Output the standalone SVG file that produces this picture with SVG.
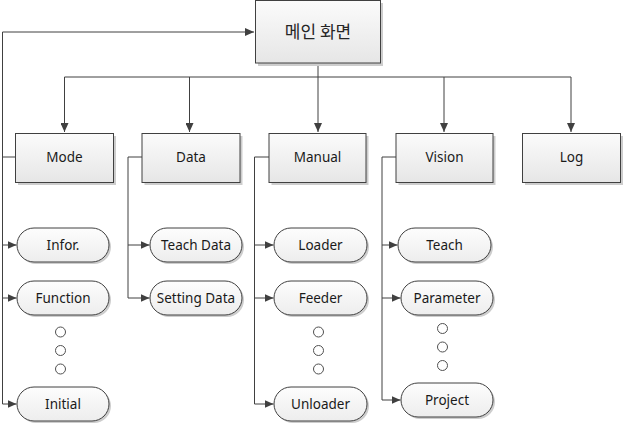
<svg xmlns="http://www.w3.org/2000/svg" width="623" height="423" viewBox="0 0 623 423">
<defs>
<linearGradient id="gBox" x1="0" y1="0" x2="0" y2="1">
<stop offset="0" stop-color="#fbfbfb"/>
<stop offset="1" stop-color="#e6e6e6"/>
</linearGradient>
<linearGradient id="gPill" x1="0" y1="0" x2="0" y2="1">
<stop offset="0" stop-color="#fdfdfd"/>
<stop offset="1" stop-color="#ededed"/>
</linearGradient>
<marker id="arr" markerWidth="10" markerHeight="8" refX="9" refY="4" orient="auto" markerUnits="userSpaceOnUse">
<path d="M0,0 L9,4 L0,8 Z" fill="#404040"/>
</marker>
</defs>
<style>
.box{fill:url(#gBox);stroke:#404040;stroke-width:1}
.pill{fill:url(#gPill);stroke:#404040;stroke-width:1}
.sh{fill:#cdcdcd}
.dot{fill:#fff;stroke:#505050;stroke-width:1}
.t{font-family:"Noto Sans","DejaVu Sans",sans-serif;font-size:13.5px;fill:#1a1a1a;text-anchor:middle}
.k{font-family:"Noto Sans CJK KR","Noto Sans",sans-serif;font-size:17px;fill:#262626;text-anchor:middle}
.c{fill:none;stroke:#404040;stroke-width:1}
</style>
<rect width="623" height="423" fill="#fff"/>
<g id="connectors">
<path class="c" d="M318,63 V77 M64.5,77 H571"/>
<path class="c" d="M64.5,77 V132" marker-end="url(#arr)"/>
<path class="c" d="M189.5,77 V132" marker-end="url(#arr)"/>
<path class="c" d="M318,77 V132" marker-end="url(#arr)"/>
<path class="c" d="M444,77 V132" marker-end="url(#arr)"/>
<path class="c" d="M571,77 V132" marker-end="url(#arr)"/>
<path class="c" d="M15.5,157 H2.5 V32 H254" marker-end="url(#arr)"/>
<path class="c" d="M2.5,157 V404"/>
<path class="c" d="M2.5,245 H16.5" marker-end="url(#arr)"/>
<path class="c" d="M2.5,298 H16.5" marker-end="url(#arr)"/>
<path class="c" d="M2.5,404 H16.5" marker-end="url(#arr)"/>
<path class="c" d="M142,157 H128 V298"/>
<path class="c" d="M128,245 H149.5" marker-end="url(#arr)"/>
<path class="c" d="M128,298 H149.5" marker-end="url(#arr)"/>
<path class="c" d="M269,157 H254.5 V404"/>
<path class="c" d="M254.5,245 H273.5" marker-end="url(#arr)"/>
<path class="c" d="M254.5,298 H273.5" marker-end="url(#arr)"/>
<path class="c" d="M254.5,404 H273.5" marker-end="url(#arr)"/>
<path class="c" d="M396,157 H382 V400"/>
<path class="c" d="M382,245 H397.5" marker-end="url(#arr)"/>
<path class="c" d="M382,298 H400.5" marker-end="url(#arr)"/>
<path class="c" d="M382,400 H400.5" marker-end="url(#arr)"/>
</g>
<g id="main">
<rect class="sh" x="258" y="3" width="125" height="63"/>
<rect class="box" x="255.5" y="0.5" width="125" height="62.5"/>
<text class="k" x="318" y="38">메인 화면</text>
</g>
<g id="mode">
<rect class="sh" x="18" y="136" width="98" height="49"/>
<rect class="box" x="15.5" y="133.5" width="98" height="49"/>
<text class="t" x="64.5" y="162">Mode</text>
</g>
<g id="data">
<rect class="sh" x="144.5" y="136" width="98" height="49"/>
<rect class="box" x="142" y="133.5" width="98" height="49"/>
<text class="t" x="191" y="162">Data</text>
</g>
<g id="manual">
<rect class="sh" x="271.5" y="136" width="97" height="49"/>
<rect class="box" x="269" y="133.5" width="97" height="49"/>
<text class="t" x="317.5" y="162">Manual</text>
</g>
<g id="vision">
<rect class="sh" x="398.5" y="136" width="97" height="49"/>
<rect class="box" x="396" y="133.5" width="97" height="49"/>
<text class="t" x="444.5" y="162">Vision</text>
</g>
<g id="log">
<rect class="sh" x="525" y="136" width="98" height="49"/>
<rect class="box" x="522.5" y="133.5" width="98" height="49"/>
<text class="t" x="571.5" y="162">Log</text>
</g>
<g id="infor">
<rect class="sh" x="19" y="230" width="92" height="34" rx="17"/>
<rect class="pill" x="17" y="228" width="92" height="34" rx="17"/>
<text class="t" x="63" y="250">Infor.</text>
</g>
<g id="function">
<rect class="sh" x="19" y="283" width="92" height="34" rx="17"/>
<rect class="pill" x="17" y="281" width="92" height="34" rx="17"/>
<text class="t" x="63" y="303">Function</text>
</g>
<g id="mode-dots">
<circle class="dot" cx="60.5" cy="332" r="5"/>
<circle class="dot" cx="60.5" cy="350.5" r="5"/>
<circle class="dot" cx="60.5" cy="369" r="5"/>
</g>
<g id="initial">
<rect class="sh" x="19" y="389" width="92" height="34" rx="17"/>
<rect class="pill" x="17" y="387" width="92" height="34" rx="17"/>
<text class="t" x="63" y="409">Initial</text>
</g>
<g id="teach-data">
<rect class="sh" x="152" y="230" width="92" height="34" rx="17"/>
<rect class="pill" x="150" y="228" width="92" height="34" rx="17"/>
<text class="t" x="196" y="250">Teach Data</text>
</g>
<g id="setting-data">
<rect class="sh" x="152" y="283" width="92" height="34" rx="17"/>
<rect class="pill" x="150" y="281" width="92" height="34" rx="17"/>
<text class="t" x="196" y="303">Setting Data</text>
</g>
<g id="loader">
<rect class="sh" x="276" y="230" width="93" height="34" rx="17"/>
<rect class="pill" x="274" y="228" width="93" height="34" rx="17"/>
<text class="t" x="320.5" y="250">Loader</text>
</g>
<g id="feeder">
<rect class="sh" x="276" y="283" width="93" height="34" rx="17"/>
<rect class="pill" x="274" y="281" width="93" height="34" rx="17"/>
<text class="t" x="320.5" y="303">Feeder</text>
</g>
<g id="manual-dots">
<circle class="dot" cx="318.5" cy="332" r="5"/>
<circle class="dot" cx="318.5" cy="350.5" r="5"/>
<circle class="dot" cx="318.5" cy="369" r="5"/>
</g>
<g id="unloader">
<rect class="sh" x="276" y="389" width="93" height="34" rx="17"/>
<rect class="pill" x="274" y="387" width="93" height="34" rx="17"/>
<text class="t" x="320.5" y="409">Unloader</text>
</g>
<g id="teach">
<rect class="sh" x="400" y="230" width="93" height="34" rx="17"/>
<rect class="pill" x="398" y="228" width="93" height="34" rx="17"/>
<text class="t" x="444.5" y="250">Teach</text>
</g>
<g id="parameter">
<rect class="sh" x="403" y="283" width="92" height="34" rx="17"/>
<rect class="pill" x="401" y="281" width="92" height="34" rx="17"/>
<text class="t" x="447" y="303">Parameter</text>
</g>
<g id="vision-dots">
<circle class="dot" cx="442.5" cy="328.5" r="5"/>
<circle class="dot" cx="442.5" cy="347" r="5"/>
<circle class="dot" cx="442.5" cy="365.5" r="5"/>
</g>
<g id="project">
<rect class="sh" x="403" y="385" width="92" height="34" rx="17"/>
<rect class="pill" x="401" y="383" width="92" height="34" rx="17"/>
<text class="t" x="447" y="405">Project</text>
</g>
</svg>
